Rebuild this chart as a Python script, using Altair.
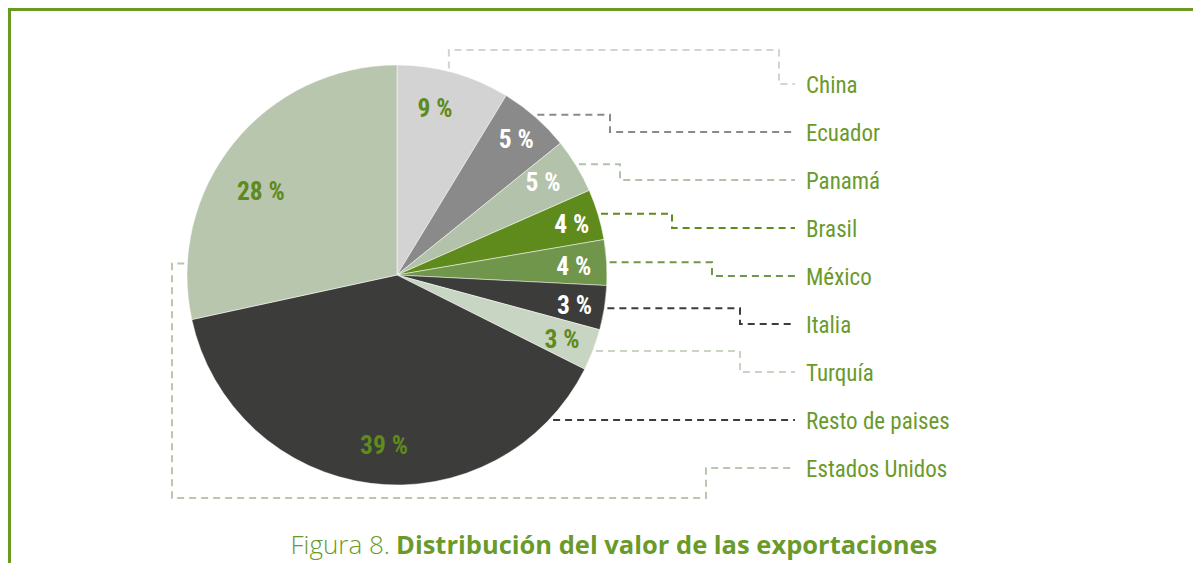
import math
import altair as alt
import pandas as pd

# ---- data ----
countries = ["China", "Ecuador", "Panamá", "Brasil", "México", "Italia",
             "Turquía", "Resto de paises", "Estados Unidos"]
shares = [8.7, 5.5, 4.2, 3.9, 3.5, 3.4, 3.2, 39.2, 28.4]
pct_labels = ["9 %", "5 %", "5 %", "4 %", "4 %", "3 %", "3 %", "39 %", "28 %"]

slice_colors = ["#dadada", "#8a8a8a", "#a6b99a", "#5f8a1c", "#6f964a",
                "#3c3c3b", "#c8d5c3", "#3c3c3b", "#b8c6ae"]
label_colors = ["#5f8a1c", "#ffffff", "#ffffff", "#ffffff", "#ffffff",
                "#ffffff", "#5f8a1c", "#5f8a1c", "#5f8a1c"]
line_colors = ["#d3d3d3", "#8a8a8a", "#b3c2aa", "#5f8a1c", "#6f964a",
               "#3c3c3b", "#c8d5c3", "#3c3c3b", "#b8c6ae"]

# ---- layout (page pixels) ----
W, H = 1185, 555
CX, CY, R = 397, 275, 210
LEG_X, LEG_Y0, LEG_DY = 806, 84, 48
LINE_END = 795
anchor_frac = [0.45, 0.5, 0.5, 0.5, 0.5, 0.5, 0.5, 0.115, 0.15]
elbow_x = [779, 610, 620, 672, 712, 740, 740, 700, 706]
label_frac = [0.41, 0.5, 0.43, 0.54, 0.54, 0.56, 0.53, 0.48, 0.43]
label_r = [171, 181, 173, 182, 177, 180, 177, 170, 160]
TOP_RAIL, LEFT_RAIL, BOTTOM_RAIL = 50, 172, 498
GREEN = "#6a9a2a"
FONT = "Roboto Condensed, Liberation Sans Narrow, DejaVu Sans Condensed, Roboto"

pie_df = pd.DataFrame({
    "pais": countries, "valor": shares, "idx": list(range(len(countries))),
})

# leader lines and percentage label spots computed from slice angles
rows = []
lab_rows = []
cum = 0.0
for i, (c, s) in enumerate(zip(countries, shares)):
    frac = (cum + s * anchor_frac[i]) / 100.0
    lfrac = (cum + s * label_frac[i]) / 100.0
    cum += s
    ang = 2 * math.pi * frac
    lang = 2 * math.pi * lfrac
    lab_rows.append({"pais": c, "etiqueta": pct_labels[i], "lcolor": label_colors[i],
                     "px": CX + label_r[i] * math.sin(lang),
                     "py": CY - label_r[i] * math.cos(lang)})
    sx = CX + (R + 3) * math.sin(ang)
    sy = CY - (R + 3) * math.cos(ang)
    ly = LEG_Y0 + LEG_DY * i
    if i == 0:
        pts = [(sx, sy), (sx, TOP_RAIL), (elbow_x[i], TOP_RAIL), (elbow_x[i], ly), (LINE_END, ly)]
    elif i == len(countries) - 1:
        pts = [(sx, sy), (LEFT_RAIL, sy), (LEFT_RAIL, BOTTOM_RAIL), (elbow_x[i], BOTTOM_RAIL),
               (elbow_x[i], ly), (LINE_END, ly)]
    elif abs(sy - ly) < 4:
        pts = [(sx, ly), (LINE_END, ly)]
    else:
        pts = [(sx, sy), (elbow_x[i], sy), (elbow_x[i], ly), (LINE_END, ly)]
    for k, (px, py) in enumerate(pts):
        rows.append({"pais": c, "seq": k, "px": px, "py": py})
lines_df = pd.DataFrame(rows)
lab_df = pd.DataFrame(lab_rows)

leg_df = pd.DataFrame({"pais": countries,
                       "py": [LEG_Y0 + LEG_DY * i for i in range(len(countries))]})

xs = alt.Scale(domain=[8, 8 + W], range=[0, W])
ys = alt.Scale(domain=[8, 8 + H], range=[0, H])

pie = alt.Chart(pie_df).mark_arc(radius=R, stroke="#ffffff", strokeWidth=0.5).encode(
    theta=alt.Theta("valor:Q", stack=True),
    order=alt.Order("idx:Q"),
    color=alt.Color("pais:N", scale=alt.Scale(domain=countries, range=slice_colors), legend=None),
    x=alt.value(CX - 8), y=alt.value(CY - 8),
)

pct = alt.Chart(lab_df).mark_text(font=FONT, fontSize=25.5, fontWeight="bold",
                                  baseline="middle", align="center", dy=1).encode(
    x=alt.X("px:Q", scale=xs, axis=None),
    y=alt.Y("py:Q", scale=ys, axis=None),
    text="etiqueta:N",
    color=alt.Color("lcolor:N", scale=None),
)

leaders = alt.Chart(lines_df).mark_line(strokeWidth=2, strokeDash=[7, 5]).encode(
    x=alt.X("px:Q", scale=xs, axis=None),
    y=alt.Y("py:Q", scale=ys, axis=None),
    detail="pais:N",
    order="seq:Q",
    color=alt.Color("pais:N", scale=alt.Scale(domain=countries, range=line_colors), legend=None),
)

legend_text = alt.Chart(leg_df).mark_text(align="left", baseline="middle", font=FONT,
                                          fontSize=23, color=GREEN, dy=2).encode(
    x=alt.value(LEG_X - 8),
    y=alt.Y("py:Q", scale=ys, axis=None),
    text="pais:N",
)

cap_df = pd.DataFrame({"t": ["Figura 8."], "t2": ["Distribución del valor de las exportaciones"]})
cap1 = alt.Chart(cap_df).mark_text(align="right", baseline="alphabetic", font="Open Sans",
                                   fontSize=26, fontWeight=300, color=GREEN).encode(
    text="t:N", x=alt.value(390 - 8), y=alt.value(554 - 8))
cap2 = alt.Chart(cap_df).mark_text(align="left", baseline="alphabetic", font="Open Sans",
                                   fontSize=25.5, fontWeight="bold", color=GREEN).encode(
    text="t2:N", x=alt.value(396 - 8), y=alt.value(554 - 8))

border_left = alt.Chart(cap_df).mark_rule(color="#6b9a22", strokeWidth=3).encode(
    x=alt.value(1.5), y=alt.value(0), y2=alt.value(H))
border_top = alt.Chart(cap_df).mark_rule(color="#6b9a22", strokeWidth=3).encode(
    x=alt.value(0), x2=alt.value(W), y=alt.value(1.5))

chart = alt.layer(leaders, pie, pct, legend_text, cap1, cap2, border_left, border_top).properties(
    width=W, height=H, padding=0, autosize=alt.AutoSizeParams(type="none"),
).configure_view(stroke=None)

chart.save("out.html", embed_options={"renderer": "svg", "actions": False})
